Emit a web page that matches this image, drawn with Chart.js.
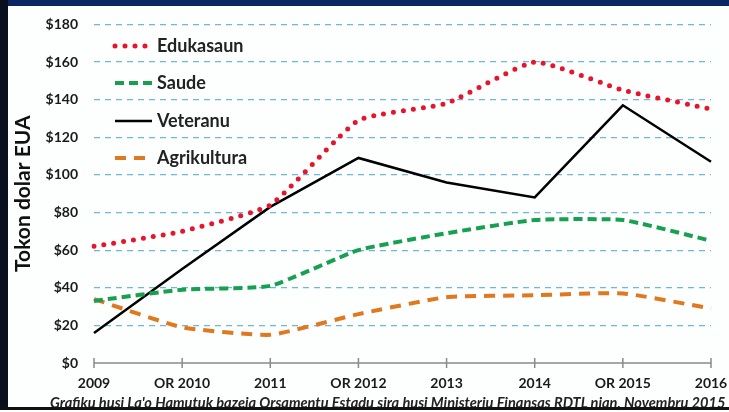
<!DOCTYPE html>
<html>
<head>
<meta charset="utf-8">
<script src="https://cdn.jsdelivr.net/npm/chart.js@4.4.0/dist/chart.umd.min.js"></script>
<style>
  html, body { margin: 0; padding: 0; background: #fdfefe; overflow: hidden; width: 729px; height: 412px; }
  #wrap { position: relative; width: 729px; height: 412px; overflow: hidden; background: #fdfefe; }
  #c { position: absolute; left: 0; top: 0; width: 729px; height: 412px; }
  #topbar { position: absolute; left: 0; top: 0; width: 729px; height: 6px; background: #0c2461; }
  #leftbar { position: absolute; left: 0; top: 0; width: 8px; height: 410px; background: #0a0f1e; }
  #bottombar { position: absolute; left: 0; top: 407px; width: 729px; height: 3px; background: #111; }
  #footer { position: absolute; left: 50px; top: 394px; font-family: Lato, sans-serif; font-style: italic; font-weight: bold; font-size: 14.6px; color: #222; text-decoration: underline; white-space: nowrap; }
</style>
</head>
<body>
<div id="wrap">
  <canvas id="c" width="729" height="412"></canvas>
  <div id="footer">Grafiku husi La'o Hamutuk bazeia Orsamentu Estadu sira husi Ministeriu Finansas RDTL nian, Novembru 2015</div>
  <div id="topbar"></div>
  <div id="leftbar"></div>
  <div id="bottombar"></div>
</div>
<script>
const categories = ['2009', 'OR 2010', '2011', 'OR 2012', '2013', '2014', 'OR 2015', '2016'];
const edukasaun = [62, 70, 84, 129, 138, 160, 145, 135];
const saude = [33, 39, 41, 60, 69, 76, 76, 65];
const veteranu = [16, 50, 83, 109, 96, 88, 137, 107];
const agrikultura = [34, 19, 15, 26, 35, 36, 37, 29];
const seriesNames = ['Edukasaun', 'Saude', 'Veteranu', 'Agrikultura'];
const yAxisTitle = 'Tokon dolar EUA';

const FONT = 'Lato, "Open Sans", sans-serif';

const bgPlugin = {
  id: 'bg',
  beforeDraw(chart) {
    const ctx = chart.ctx;
    ctx.save();
    ctx.fillStyle = '#fdfefe';
    ctx.fillRect(0, 0, chart.width, chart.height);
    ctx.restore();
  }
};

const legendPlugin = {
  id: 'insideLegend',
  afterDraw(chart) {
    const ctx = chart.ctx;
    const x0 = 115, x1 = 152, tx = 157;
    const ys = [46, 83, 121, 158];
    chart.data.datasets.forEach((ds, i) => {
      const y = ys[i];
      ctx.save();
      ctx.strokeStyle = ds.borderColor;
      ctx.lineWidth = ds.borderWidth;
      ctx.lineCap = ds.borderCapStyle || 'butt';
      ctx.setLineDash(ds.borderDash || []);
      ctx.beginPath();
      ctx.moveTo(x0, y);
      ctx.lineTo(x1, y);
      ctx.stroke();
      ctx.restore();
      ctx.save();
      ctx.fillStyle = '#222';
      ctx.font = 'bold 18px ' + FONT;
      ctx.textBaseline = 'middle';
      ctx.fillText(ds.label, tx, y);
      ctx.restore();
    });
  }
};

const axisTicksPlugin = {
  id: 'crossTicks',
  afterDatasetsDraw(chart) {
    const xs = chart.scales.x;
    const ctx = chart.ctx;
    const y = chart.chartArea.bottom;
    ctx.save();
    ctx.strokeStyle = '#8a8a8a';
    ctx.lineWidth = 1.5;
    ctx.beginPath();
    ctx.moveTo(chart.chartArea.left, y);
    ctx.lineTo(chart.chartArea.right, y);
    for (let i = 0; i < categories.length; i++) {
      const px = xs.getPixelForTick(i);
      ctx.moveTo(px, y - 5);
      ctx.lineTo(px, y + 5);
    }
    ctx.stroke();
    ctx.restore();
  }
};

new Chart(document.getElementById('c'), {
  type: 'line',
  data: {
    labels: categories,
    datasets: [
      { label: seriesNames[0], data: edukasaun, borderColor: '#e8142c', borderWidth: 5, borderDash: [0, 10], borderCapStyle: 'round', tension: 0.15, pointRadius: 0, fill: false },
      { label: seriesNames[1], data: saude, borderColor: '#17a050', borderWidth: 4, borderDash: [9, 5], tension: 0.15, pointRadius: 0, fill: false },
      { label: seriesNames[2], data: veteranu, borderColor: '#000000', borderWidth: 2.5, tension: 0, pointRadius: 0, fill: false },
      { label: seriesNames[3], data: agrikultura, borderColor: '#e0781f', borderWidth: 4, borderDash: [11, 8], tension: 0.15, pointRadius: 0, fill: false }
    ]
  },
  options: {
    responsive: false,
    animation: false,
    layout: { padding: { left: 0, top: 21, right: 18, bottom: 0 } },
    plugins: { legend: { display: false }, tooltip: { enabled: false } },
    scales: {
      x: {
        offset: false,
        grid: { display: true, drawOnChartArea: false, drawTicks: true, tickLength: 12, color: 'rgba(0,0,0,0)' },
        border: { display: false },
        ticks: { color: '#1a1a1a', font: { family: FONT, weight: 'bold', size: 14 }, padding: 0, maxRotation: 0, autoSkip: false },
        afterFit(s) { s.height = 49; }
      },
      y: {
        min: 0, max: 180,
        ticks: { stepSize: 20, color: '#1a1a1a', font: { family: FONT, weight: 'bold', size: 14 }, padding: 16, callback: v => '$' + v },
        grid: {
          drawTicks: false,
          color: ctx => ctx.tick && ctx.tick.value === 0 ? 'rgba(0,0,0,0)' : '#6cb9d9',
          lineWidth: 1.2
        },
        border: { display: false, dash: [6, 5] },
        title: { display: true, text: yAxisTitle, color: '#111', font: { family: FONT, weight: 'bold', size: 21 }, padding: { top: 11, bottom: 0 } },
        afterFit(s) { s.width = 94; }
      }
    }
  },
  plugins: [bgPlugin, legendPlugin, axisTicksPlugin]
});
</script>
</body>
</html>
